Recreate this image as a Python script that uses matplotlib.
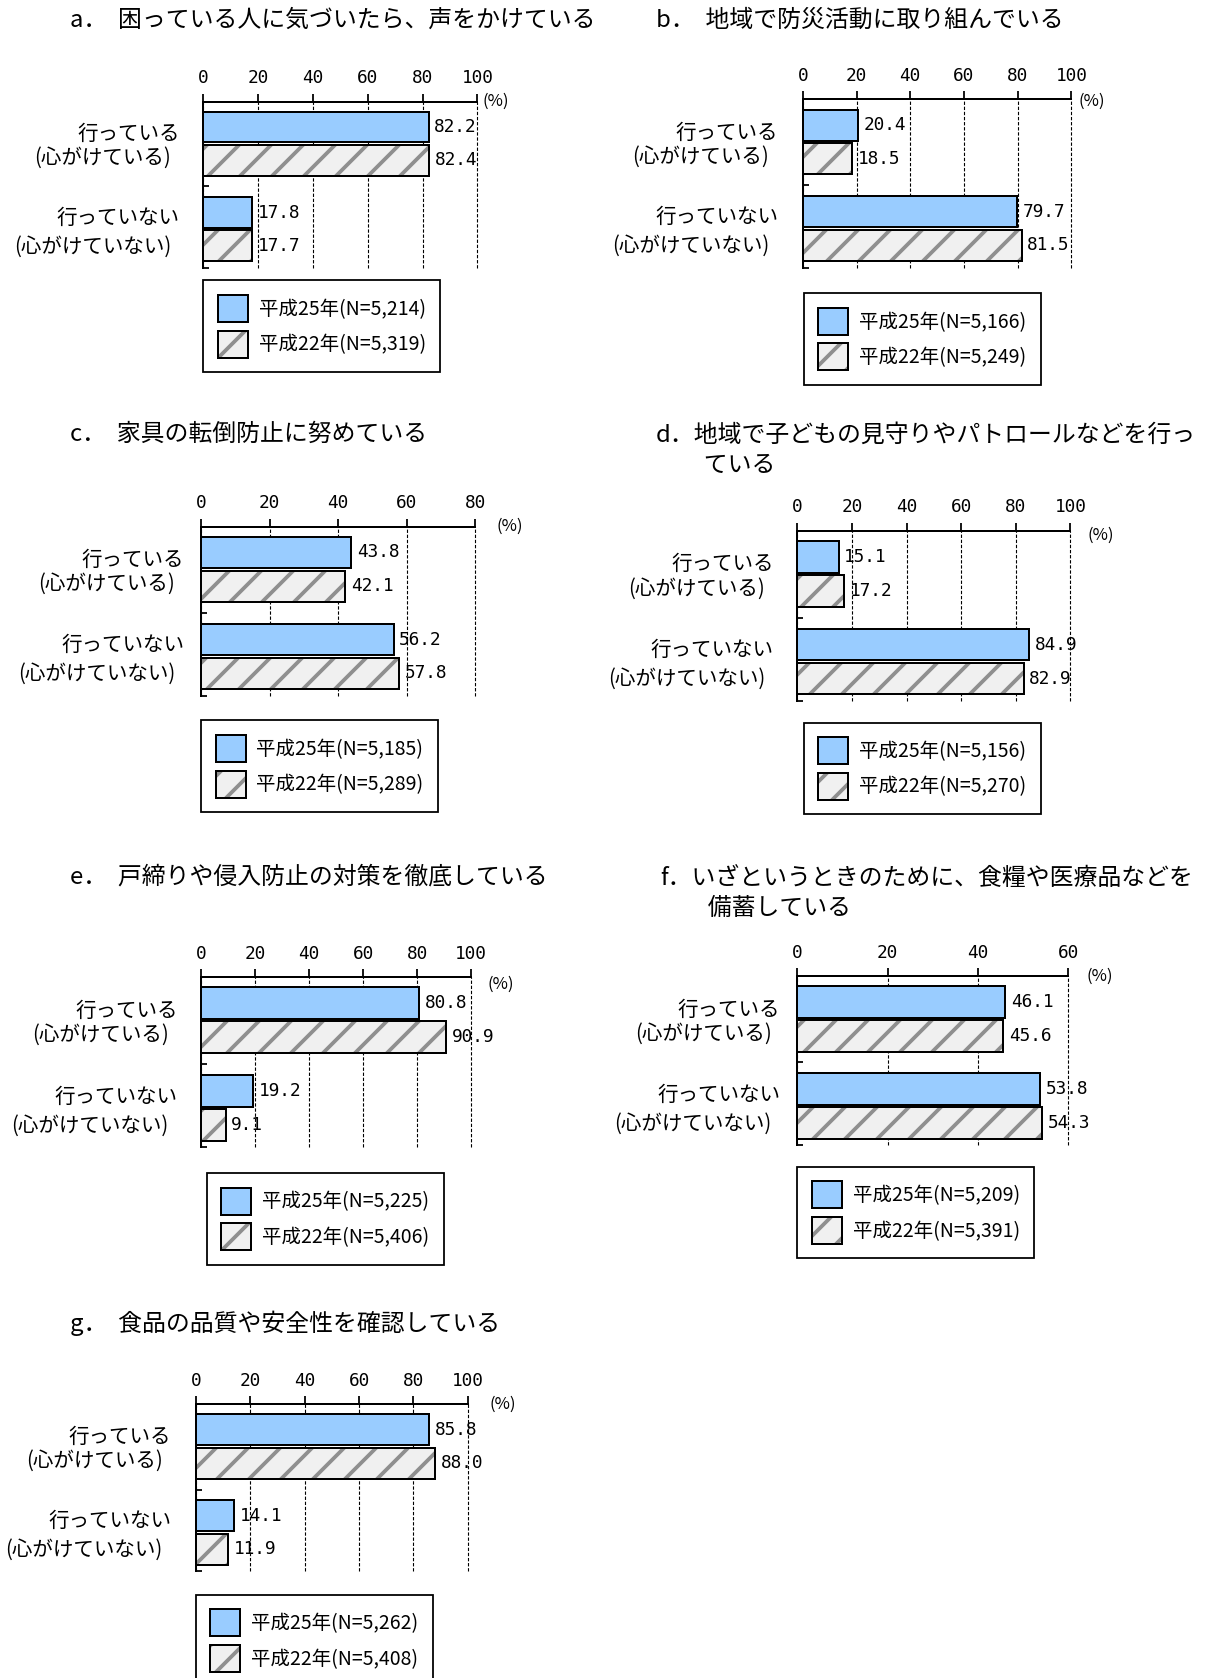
import numpy as np
import matplotlib
matplotlib.use("Agg")
import matplotlib.pyplot as plt
from matplotlib.patches import Patch
from matplotlib.legend_handler import HandlerTuple

W, H, DPI = 1217, 1678, 96
S = 80.0 / DPI          # size scale (sizes below were tuned for 80 dpi)
pt = 72.0 / DPI         # points per pixel

plt.rcParams['font.family'] = ['Noto Sans CJK JP', 'DejaVu Sans']
plt.rcParams['hatch.linewidth'] = 3.4 * S

# ---------------- data ----------------
categories_main = ["行っている", "行っていない"]
categories_sub = ["(心がけている)", "(心がけていない)"]
series_years = ["平成25年", "平成22年"]

titles = [
    "a．  困っている人に気づいたら、声をかけている",
    "b．  地域で防災活動に取り組んでいる",
    "c．  家具の転倒防止に努めている",
    "d．地域で子どもの見守りやパトロールなどを行っ\n　　ている",
    "e．  戸締りや侵入防止の対策を徹底している",
    "f．いざというときのために、食糧や医療品などを\n　　備蓄している",
    "g．  食品の品質や安全性を確認している",
]
values_h25 = [[82.2, 17.8], [20.4, 79.7], [43.8, 56.2], [15.1, 84.9],
              [80.8, 19.2], [46.1, 53.8], [85.8, 14.1]]
values_h22 = [[82.4, 17.7], [18.5, 81.5], [42.1, 57.8], [17.2, 82.9],
              [90.9, 9.1], [45.6, 54.3], [88.0, 11.9]]
n_h25 = ["5,214", "5,166", "5,185", "5,156", "5,225", "5,209", "5,262"]
n_h22 = ["5,319", "5,249", "5,289", "5,270", "5,406", "5,391", "5,408"]
axis_max = [100, 100, 80, 100, 100, 60, 100]

# ---------------- layout (pixels) ----------------
axes_px = [(203.4, 101.7, 477.4, 267.6),
           (802.8, 99.5, 1071.4, 267.6),
           (201.2, 526.6, 475.2, 695.7),
           (797.4, 530.9, 1070.4, 701.0),
           (201.2, 977.2, 471.0, 1147.4),
           (797.4, 976.2, 1068.2, 1145.3),
           (195.9, 1404.3, 467.8, 1571.3)]
title_px = [(69.6, 18.2), (656, 18.2), (69.6, 431.4), (656, 432.4),
            (69.6, 874.5), (660, 875.6), (69.6, 1319.8)]
legend_px = [(203.4, 280.4), (803.9, 293.3), (201.2, 720.4), (803.9, 722.5),
             (206.6, 1173.2), (797.4, 1166.7), (195.9, 1594.9)]
pct_px = [(18, 0), (20, 2), (35, 0), (30, 4), (30, 7), (32, 0), (35, 0)]
label_gap_px = [23.5, 24.5, 17, 23.5, 23.5, 17, 24.5]
line1_dy = [-9.5, -11.5]   # px from group centre
line2_dy = [14.5, 17.5]

YTOP, YBOT = 0.01, 1.95

BLUE = '#99CCFF'
HATCH_FACE = '#f0f0f0'
HATCH_COL = '#8f8f8f'

fig = plt.figure(figsize=(W / DPI, H / DPI), dpi=DPI)
fig.patch.set_facecolor('white')

for i in range(len(titles)):
    x0, y0, x1, y1 = axes_px[i]
    ax = fig.add_axes([x0 / W, 1 - y1 / H, (x1 - x0) / W, (y1 - y0) / H])
    ax.set_xlim(0, axis_max[i])
    ax.set_ylim(YBOT, YTOP)
    ax.set_axisbelow(True)
    ax.patch.set_alpha(0)

    ax.xaxis.tick_top()
    ax.set_xticks(range(0, axis_max[i] + 1, 20))
    ax.tick_params(axis='x', direction='out', length=7 * S, width=1.6 * S,
                   pad=6 * S, labelsize=16 * S,
                   labelfontfamily='DejaVu Sans Mono')
    ax.set_yticks([1, YBOT])
    ax.set_yticklabels([])
    ax.tick_params(axis='y', direction='in', length=5 * S, width=1.6 * S)
    for s in ['right', 'bottom']:
        ax.spines[s].set_visible(False)
    for s in ['top', 'left']:
        ax.spines[s].set_linewidth(1.8 * S)

    ax.grid(axis='x', color='black', linestyle=(0, (3, 1.6)),
            linewidth=1.0 * S)
    for gl in ax.get_xgridlines():
        gl.set_clip_on(False)

    centers = np.arange(len(categories_main)) + 0.5
    h, off = 0.36, 0.194
    b1 = ax.barh(centers - off, values_h25[i], height=h, color=BLUE,
                 edgecolor='black', linewidth=1.8 * S, zorder=2)
    b2 = ax.barh(centers + off, values_h22[i], height=h, color=HATCH_FACE,
                 edgecolor=HATCH_COL, hatch='/', linewidth=0, zorder=2)
    b3 = ax.barh(centers + off, values_h22[i], height=h, fill=False,
                 edgecolor='black', linewidth=1.8 * S, zorder=3)
    for cont in (b1, b2, b3):
        for p in cont:
            p.set_clip_on(False)
    ax.bar_label(b1, fmt='%.1f', padding=5 * S, fontsize=16 * S,
                 fontfamily='DejaVu Sans Mono')
    ax.bar_label(b3, fmt='%.1f', padding=5 * S, fontsize=16 * S,
                 fontfamily='DejaVu Sans Mono')

    gap = label_gap_px[i]
    for j, c in enumerate(centers):
        ax.annotate(categories_main[j], xy=(0, c),
                    xycoords=('axes fraction', 'data'),
                    xytext=(-gap * pt, -line1_dy[j] * pt),
                    textcoords='offset points',
                    ha='right', va='center', fontsize=18.5 * S)
        ax.annotate(categories_sub[j], xy=(0, c),
                    xycoords=('axes fraction', 'data'),
                    xytext=(-(gap + 9) * pt, -line2_dy[j] * pt),
                    textcoords='offset points',
                    ha='right', va='center', fontsize=18.5 * S)

    dx, dy = pct_px[i]
    ax.annotate("(%)", xy=(1, 1), xycoords='axes fraction',
                xytext=(dx * pt, -dy * pt), textcoords='offset points',
                ha='center', va='center', fontsize=15 * S)

    tx, ty = title_px[i]
    fig.text(tx / W, 1 - (ty - 9) / H, titles[i], ha='left', va='top',
             fontsize=21.5 * S, linespacing=1.4)

    hb = Patch(facecolor=BLUE, edgecolor='black', linewidth=1.8 * S)
    hh = Patch(facecolor=HATCH_FACE, edgecolor=HATCH_COL, hatch='/',
               linewidth=0)
    ho = Patch(fill=False, edgecolor='black', linewidth=1.8 * S)
    lx, ly = legend_px[i]
    leg = fig.legend([hb, (hh, ho)],
                     [f"{series_years[0]}(N={n_h25[i]})",
                      f"{series_years[1]}(N={n_h22[i]})"],
                     handler_map={tuple: HandlerTuple(ndivide=1)},
                     loc='upper left', bbox_to_anchor=(lx / W, 1 - ly / H),
                     bbox_transform=fig.transFigure, borderaxespad=0,
                     fontsize=17.5 * S, handlelength=1.54, handleheight=1.76,
                     handletextpad=0.55, labelspacing=0.44, borderpad=0.75,
                     fancybox=False, framealpha=1, edgecolor='black')
    leg.get_frame().set_linewidth(1.6 * S)

fig.savefig('out.png', dpi=DPI, facecolor='white')
